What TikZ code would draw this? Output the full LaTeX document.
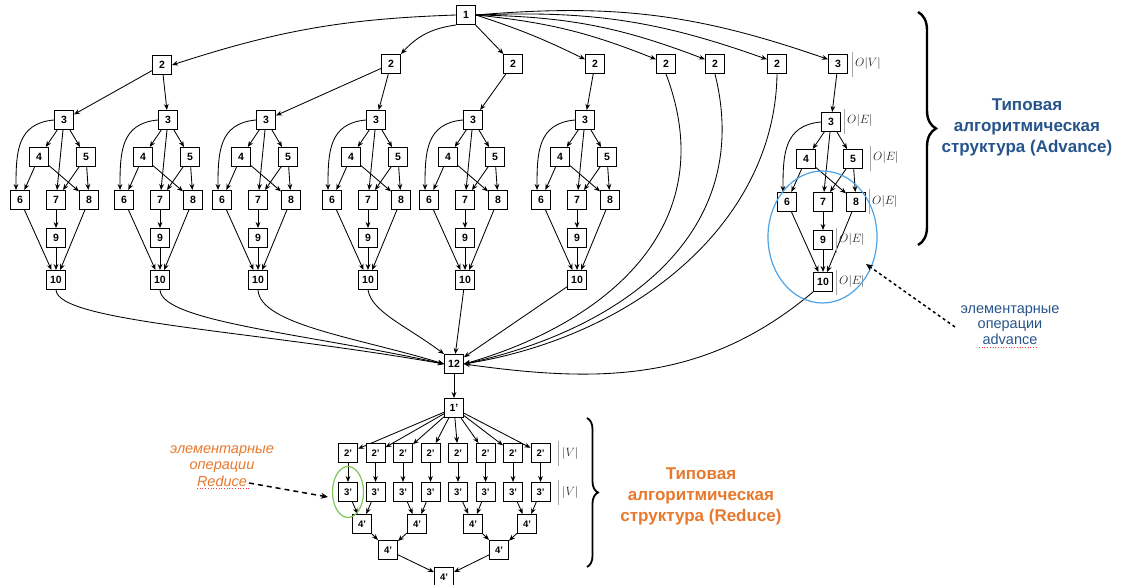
\documentclass[tikz,border=0pt]{standalone}
\usepackage{fontspec}
\setmainfont{Liberation Sans}
\usetikzlibrary{arrows.meta,decorations.pathreplacing,shapes.geometric}
\definecolor{advblue}{HTML}{26548A}
\definecolor{redorange}{HTML}{E8782C}
\definecolor{ellblue}{HTML}{4DA3E6}
\definecolor{ellgreen}{HTML}{80C855}
\begin{document}
\begin{tikzpicture}[x=1pt,y=-1pt,
  box/.style={draw,line width=1pt,minimum size=19pt,inner sep=0pt,fill=white,font=\fontsize{10.5}{12}\selectfont\bfseries},
  pbox/.style={box,font=\fontsize{9.5}{11}\selectfont\bfseries},
  arr/.style={line width=0.85pt,-{Stealth[length=6pt,width=4.8pt]}},
  lbl/.style={anchor=west,inner sep=0pt,font=\fontsize{12.5}{13}\selectfont,text=black!85},
  lbar/.style={draw=black!35,line width=0.5pt},
  heading/.style={font=\fontsize{17}{21}\selectfont\bfseries,align=center},
  note/.style={font=\fontsize{14.5}{15.8}\selectfont,align=center},
  squiggle/.style={draw=red!80,dotted,line width=0.7pt},
  dasharr/.style={line width=1.5pt,-{Stealth[length=7pt,width=6pt]}},
]
\useasboundingbox (0,0) rectangle (1125,585);

% ---------- top level ----------
\node[box] (t1) at (466,15) {1};
\node[box] (a2) at (162,65) {2};
\node[box] (b2) at (391,64) {2};
\node[box] (c2) at (513,64) {2};
\node[box] (d2) at (595,64) {2};
\node[box] (e2) at (666,64) {2};
\node[box] (f2) at (715,64) {2};
\node[box] (g2) at (777,64) {2};
\node[box] (h3) at (838,64) {3};

\draw[arr] (t1.west) to[bend right=8] (a2.east);
\draw[arr] (t1.south west) to[bend right=20] (b2.north east);
\draw[arr] (t1) -- (c2);
\draw[arr] (t1.east) to[bend left=4] (d2.155);
\draw[arr] (t1.east) to[bend left=8] (e2.155);
\draw[arr] (t1.east) to[bend left=10] (f2.155);
\draw[arr] (t1.east) to[bend left=11] (g2.155);
\draw[arr] (t1.east) to[bend left=12] (h3.155);

% ---------- subgraphs ----------
\foreach \x/\d [count=\k] in {64/0,168/0,266/0,376/0,473/0,585/0,831/2} {
  \node[box] (s\k-3) at (\x,120+\d) {3};
  \node[box] (s\k-4) at (\x-25,157+\d) {4};
  \node[box] (s\k-5) at (\x+22,157+\d) {5};
  \node[box] (s\k-6) at (\x-44,200+\d) {6};
  \node[box] (s\k-7) at (\x-8,200+\d) {7};
  \node[box] (s\k-8) at (\x+25,200+\d) {8};
  \node[box] (s\k-9) at (\x-8,238+\d) {9};
  \node[box] (s\k-10) at (\x-8,280+\d) {10};
  \draw[arr] (s\k-3) -- (s\k-4);
  \draw[arr] (s\k-3) -- (s\k-5);
  \draw[arr] (s\k-3) -- (s\k-7);
  \draw[arr] (s\k-3.west) to[out=185,in=90,looseness=1.2] ([xshift=-4pt]s\k-6.north);
  \draw[arr] (s\k-4) -- (s\k-6);
  \draw[arr] (s\k-4) -- (s\k-8);
  \draw[arr] (s\k-5) -- (s\k-7);
  \draw[arr] (s\k-5) -- (s\k-8);
  \draw[arr] (s\k-6) -- (s\k-10);
  \draw[arr] (s\k-7) -- (s\k-9);
  \draw[arr] (s\k-9) -- (s\k-10);
  \draw[arr] (s\k-8) -- (s\k-10);
}

\draw[arr] (a2) -- (s1-3);
\draw[arr] (a2) -- (s2-3);
\draw[arr] (b2) -- (s3-3);
\draw[arr] (b2) -- (s4-3);
\draw[arr] (c2) -- (s5-3);
\draw[arr] (d2) -- (s6-3);
\draw[arr] (h3) -- (s7-3);

% ---------- node 12 ----------
\node[box] (n12) at (454,364) {12};
\draw[arr] (s1-10.south) .. controls (58,322) and (250,330) .. (n12.west);
\draw[arr] (s2-10.south) .. controls (162,322) and (310,334) .. (n12.west);
\draw[arr] (s3-10.south) .. controls (260,325) and (360,338) .. (n12.west);
\draw[arr] (s4-10.south) .. controls (372,312) and (405,325) .. (n12.north west);
\draw[arr] (s5-10) -- (n12);
\draw[arr] (s6-10) -- (n12);
\draw[arr] (e2.south) .. controls (725,230) and (600,325) .. (n12.east);
\draw[arr] (f2.south) .. controls (755,235) and (620,330) .. (n12.east);
\draw[arr] (g2.south) .. controls (775,220) and (640,335) .. (n12.east);
\draw[arr] (s7-10.south west) to[out=-140,in=-8] (n12.east);

% ---------- advance labels ----------
\draw[lbar] (852,52) -- (852,77);  \node[lbl] (lv) at (855,64) {$O|V|$};
\draw[lbar] (844,109) -- (844,134); \node[lbl] (le1) at (847,121) {$O|E|$};
\draw[lbar] (870,146) -- (870,171); \node[lbl] (le2) at (873,158) {$O|E|$};
\draw[lbar] (869,189) -- (869,214); \node[lbl] (le3) at (872,202) {$O|E|$};
\draw[lbar] (836,228) -- (836,253); \node[lbl] (le4) at (839,240) {$O|E|$};
\draw[lbar] (836,270) -- (836,295); \node[lbl] (le5) at (839,282) {$O|E|$};

\node[ellipse,draw=ellblue,line width=1.2pt,minimum width=109pt,minimum height=132pt,inner sep=0pt] (bell) at (822.5,237) {};

% ---------- reduce part ----------
\node[box] (p1) at (454,408) {1'};
\draw[arr] (n12) -- (p1);
\foreach \x [count=\k] in {348,375.5,403,430.5,458,485.5,513,540.5} {
  \node[pbox] (p2-\k) at (\x,453) {2'};
  \node[pbox] (p3-\k) at (\x,492) {3'};
  \draw[arr] (p1) -- (p2-\k);
  \draw[arr] (p2-\k) -- (p3-\k);
}
\node[pbox] (q1) at (362,524) {4'};
\node[pbox] (q2) at (417,524) {4'};
\node[pbox] (q3) at (473,524) {4'};
\node[pbox] (q4) at (527,524) {4'};
\node[pbox] (r1) at (388,550) {4'};
\node[pbox] (r2) at (499,550) {4'};
\node[pbox] (z)  at (444,577) {4'};
\draw[arr] (p3-1) -- (q1); \draw[arr] (p3-2) -- (q1);
\draw[arr] (p3-3) -- (q2); \draw[arr] (p3-4) -- (q2);
\draw[arr] (p3-5) -- (q3); \draw[arr] (p3-6) -- (q3);
\draw[arr] (p3-7) -- (q4); \draw[arr] (p3-8) -- (q4);
\draw[arr] (q1) -- (r1); \draw[arr] (q2) -- (r1);
\draw[arr] (q3) -- (r2); \draw[arr] (q4) -- (r2);
\draw[arr] (r1) -- (z); \draw[arr] (r2) -- (z);

\draw[lbar] (558,441) -- (558,466); \node[lbl] (lv1) at (562,453) {$|V|$};
\draw[lbar] (558,480) -- (558,505); \node[lbl] (lv2) at (562,492) {$|V|$};

\node[ellipse,draw=ellgreen,line width=1.2pt,minimum width=31pt,minimum height=51pt,inner sep=0pt] (gell) at (348,492) {};

% ---------- braces and headings ----------
\draw[decorate,decoration={brace,amplitude=18pt},line width=2.4pt] (918,12) -- (918,245);
\draw[decorate,decoration={brace,amplitude=11pt},line width=1.8pt] (587,418) -- (587,567);

\node[heading,text=advblue] (hadv) at (1027,127) {Типовая\\алгоритмическая\\структура (Advance)};
\node[heading,text=redorange] (hred) at (701,496) {Типовая\\алгоритмическая\\структура (Reduce)};

\node[note,text=advblue] (nadv) at (1010,325) {элементарные\\операции\\advance};
\draw[squiggle] (979,347) -- (1038,347);
\coordinate (advS) at (955,327);
\coordinate (advA) at (866,264);
\draw[dasharr,dash pattern=on 3pt off 3pt] (advS) -- (advA);

\node[note,text=redorange,font=\fontsize{14.5}{16.5}\selectfont\itshape] (nred) at (222,466) {элементарные\\операции\\Reduce};
\draw[squiggle] (197,488) -- (249,488);
\coordinate (redS) at (249,483);
\coordinate (redA) at (328,497);
\draw[dasharr,dash pattern=on 5pt off 4pt] (redS) -- (redA);
\end{tikzpicture}
\end{document}
